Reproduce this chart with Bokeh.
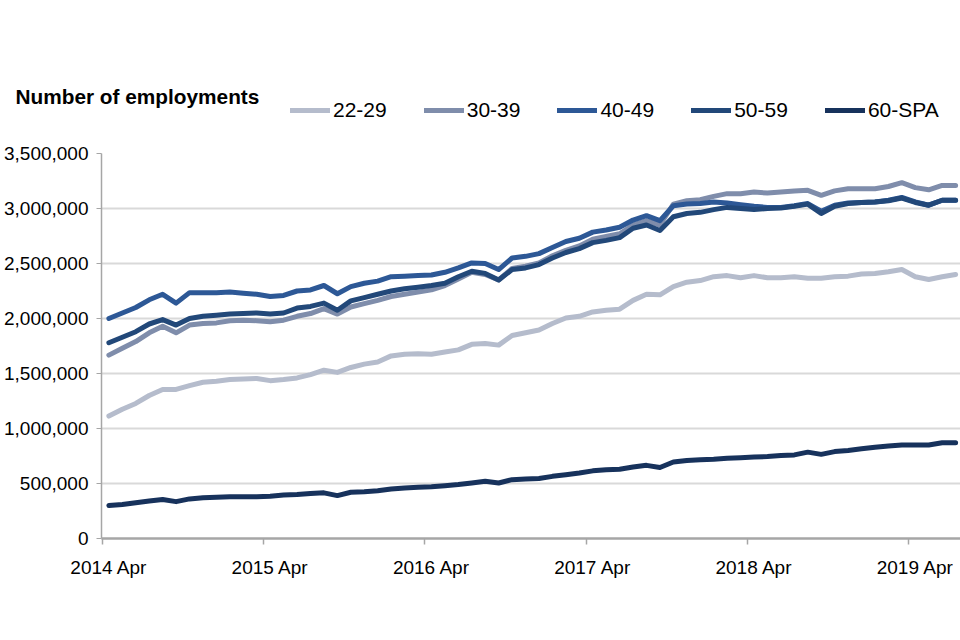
from bokeh.plotting import figure
from bokeh.layouts import column
from bokeh.models import (Range1d, FixedTicker, NumeralTickFormatter, Legend, LegendItem, Label)
from bokeh.embed import file_html
from bokeh.resources import INLINE

# ---- data ----
month_index = list(range(64))  # 2014 Apr .. 2019 Jul, monthly
tick_positions = [0, 12, 24, 36, 48, 60]
tick_labels = ["2014 Apr", "2015 Apr", "2016 Apr", "2017 Apr", "2018 Apr", "2019 Apr"]
series_names = ["22-29", "30-39", "40-49", "50-59", "60-SPA"]

age_22_29 = [1113000, 1175000, 1228000, 1300000, 1355000, 1355000, 1390000, 1420000, 1430000, 1445000,
             1450000, 1455000, 1435000, 1445000, 1460000, 1490000, 1530000, 1510000, 1555000, 1585000,
             1605000, 1660000, 1675000, 1680000, 1675000, 1695000, 1715000, 1765000, 1773000, 1758000,
             1845000, 1870000, 1895000, 1955000, 2005000, 2020000, 2060000, 2075000, 2085000, 2165000,
             2220000, 2215000, 2290000, 2330000, 2345000, 2380000, 2390000, 2370000, 2390000, 2370000,
             2370000, 2380000, 2365000, 2365000, 2380000, 2385000, 2405000, 2410000, 2425000, 2445000,
             2380000, 2355000, 2380000, 2400000]
age_30_39 = [1667000, 1730000, 1790000, 1870000, 1930000, 1870000, 1940000, 1955000, 1960000, 1980000,
             1985000, 1980000, 1970000, 1985000, 2020000, 2045000, 2090000, 2040000, 2105000, 2135000,
             2165000, 2200000, 2220000, 2240000, 2260000, 2300000, 2360000, 2420000, 2400000, 2350000,
             2455000, 2475000, 2505000, 2570000, 2620000, 2660000, 2720000, 2745000, 2770000, 2850000,
             2890000, 2850000, 3040000, 3070000, 3080000, 3110000, 3135000, 3135000, 3150000, 3140000,
             3150000, 3160000, 3165000, 3120000, 3160000, 3180000, 3180000, 3180000, 3200000, 3235000,
             3190000, 3170000, 3210000, 3210000]
age_40_49 = [2000000, 2050000, 2100000, 2170000, 2220000, 2140000, 2235000, 2235000, 2235000, 2240000,
             2230000, 2220000, 2200000, 2210000, 2250000, 2260000, 2300000, 2225000, 2290000, 2320000,
             2340000, 2380000, 2385000, 2390000, 2395000, 2420000, 2460000, 2505000, 2500000, 2445000,
             2550000, 2565000, 2590000, 2645000, 2700000, 2730000, 2785000, 2805000, 2830000, 2895000,
             2935000, 2890000, 3025000, 3040000, 3045000, 3060000, 3050000, 3035000, 3020000, 3010000,
             3010000, 3025000, 3045000, 2975000, 3030000, 3050000, 3055000, 3060000, 3075000, 3100000,
             3060000, 3030000, 3075000, 3075000]
age_50_59 = [1780000, 1830000, 1880000, 1950000, 1990000, 1940000, 2000000, 2020000, 2030000, 2040000,
             2045000, 2050000, 2040000, 2050000, 2095000, 2110000, 2140000, 2075000, 2160000, 2190000,
             2220000, 2250000, 2270000, 2285000, 2300000, 2320000, 2380000, 2430000, 2410000, 2350000,
             2445000, 2460000, 2490000, 2550000, 2600000, 2635000, 2690000, 2710000, 2735000, 2820000,
             2850000, 2800000, 2925000, 2955000, 2965000, 2990000, 3010000, 3000000, 2990000, 3000000,
             3005000, 3020000, 3040000, 2955000, 3020000, 3045000, 3055000, 3060000, 3070000, 3095000,
             3055000, 3030000, 3075000, 3075000]
age_60_spa = [300000, 310000, 325000, 340000, 355000, 335000, 360000, 370000, 375000, 380000,
              380000, 380000, 385000, 395000, 400000, 410000, 415000, 390000, 420000, 425000,
              435000, 450000, 460000, 465000, 470000, 480000, 490000, 505000, 520000, 505000,
              535000, 540000, 545000, 565000, 580000, 595000, 615000, 625000, 630000, 650000,
              665000, 645000, 695000, 710000, 715000, 720000, 730000, 735000, 740000, 745000,
              755000, 760000, 785000, 765000, 790000, 800000, 815000, 830000, 840000, 850000,
              850000, 850000, 870000, 870000]

series_values = [age_22_29, age_30_39, age_40_49, age_50_59, age_60_spa]
colors = ["#B5BCCC", "#7F8DAB", "#2D5896", "#224879", "#17325C"]

FONT = "Liberation Sans"
PX_PER_MONTH = 13.44
FRAME_LEFT = 101
W = 960
HEAD_H = 141
MAIN_H = 467
TOP, BOTTOM = 12, 70

# ---------------- header: title + legend ----------------
head = figure(width=W, height=HEAD_H, output_backend="svg", toolbar_location=None,
              x_axis_type=None, y_axis_type=None,
              x_range=Range1d(0, W), y_range=Range1d(0, HEAD_H),
              min_border=0, min_border_left=0, min_border_right=0,
              min_border_top=0, min_border_bottom=0)
head.frame_align = False
head.outline_line_color = None
head.background_fill_color = "white"
head.border_fill_color = "white"
head.xgrid.visible = False
head.ygrid.visible = False

head.add_layout(Label(x=15, y=HEAD_H - 96, text="Number of employments",
                      text_font=FONT, text_font_size="20.8px", text_font_style="bold",
                      text_color="black", text_baseline="alphabetic"))

# legend keys: style-only renderers (a single NaN point, nothing is drawn)
items = []
for name, col in zip(series_names, colors):
    key = head.line(x=[float("nan")], y=[float("nan")], line_color=col,
                    line_width=5, line_cap="round")
    items.append(LegendItem(label=name, renderers=[key]))

legend = Legend(items=items, orientation="horizontal",
                location=(290, 19),
                label_text_font=FONT, label_text_font_size="21px",
                label_text_color="black",
                glyph_width=40, glyph_height=20, label_height=20,
                label_standoff=3, spacing=37, padding=0, margin=0,
                border_line_color=None, background_fill_alpha=0)
head.add_layout(legend)

# ---------------- main chart ----------------
x_start = -0.55
x_end = x_start + (W - FRAME_LEFT) / PX_PER_MONTH

p = figure(width=W, height=MAIN_H, output_backend="svg", toolbar_location=None,
           x_range=Range1d(x_start, x_end), y_range=Range1d(0, 3500000),
           min_border_left=FRAME_LEFT, min_border_right=0,
           min_border_top=TOP, min_border_bottom=BOTTOM)
p.frame_align = False
p.outline_line_color = None
p.background_fill_color = "white"
p.border_fill_color = "white"

p.xgrid.grid_line_color = None
p.ygrid.grid_line_color = "#D9D9D9"
p.ygrid.grid_line_width = 2

p.yaxis.ticker = FixedTicker(ticks=[0, 500000, 1000000, 1500000, 2000000, 2500000, 3000000, 3500000])
p.yaxis.formatter = NumeralTickFormatter(format="0,0")
p.yaxis.axis_line_color = "#A6A6A6"
p.yaxis.axis_line_width = 1.5
p.yaxis.major_tick_line_color = "#A6A6A6"
p.yaxis.major_tick_out = 5
p.yaxis.major_tick_in = 0
p.yaxis.minor_tick_line_color = None
p.yaxis.major_label_standoff = 8
p.yaxis.major_label_text_font = FONT
p.yaxis.major_label_text_font_size = "19px"
p.yaxis.major_label_text_color = "black"

p.xaxis.ticker = FixedTicker(ticks=tick_positions,
                             minor_ticks=[t - 0.5 for t in tick_positions])
p.xaxis.major_label_overrides = {t: l for t, l in zip(tick_positions, tick_labels)}
p.xaxis.axis_line_color = "#A6A6A6"
p.xaxis.axis_line_width = 2.5
p.xaxis.major_tick_out = 0
p.xaxis.major_tick_in = 0
p.xaxis.minor_tick_out = 6
p.xaxis.minor_tick_in = 0
p.xaxis.minor_tick_line_color = "#A6A6A6"
p.xaxis.minor_tick_line_width = 1.5
p.xaxis.major_label_standoff = 12
p.xaxis.major_label_text_font = FONT
p.xaxis.major_label_text_font_size = "19px"
p.xaxis.major_label_text_color = "black"

for name, vals, col in zip(series_names, series_values, colors):
    p.line(month_index, vals, line_color=col, line_width=5,
           line_join="round", line_cap="round")

layout = column(head, p, spacing=0)
open("out.html", "w").write(file_html(layout, INLINE))
